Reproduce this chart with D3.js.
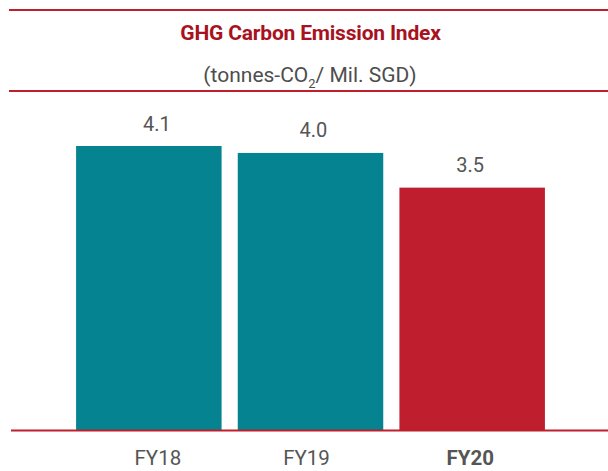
<!DOCTYPE html>
<html><head><meta charset="utf-8">
<script src="https://cdn.jsdelivr.net/npm/d3@7"></script>
<style>body{margin:0;background:#fff;}svg{display:block;font-family:Roboto,"Noto Sans",sans-serif;}</style>
</head><body>
<svg id="c" width="608" height="471"></svg>
<script>
const categories = ["FY18", "FY19", "FY20"];
const values = [4.1, 4.0, 3.5];
const valueLabels = ["4.1", "4.0", "3.5"];
const barColors = ["#058390", "#058390", "#be1e2d"];
const title = "GHG Carbon Emission Index";

// layout-only nudges of text relative to bar centres (as in the original artwork)
const valueNudge = [8, 3, -2];
const catNudge = [9, -4, -2];

const svg = d3.select("#c");
const W = 608, H = 471;
const x = d3.scaleBand().domain(categories).range([68, 553]).paddingInner(0.1).paddingOuter(0.05);
const y = d3.scaleLinear().domain([0, 4.1]).range([430.5, 146]);

// rules
svg.append("line").attr("x1", 9).attr("x2", W).attr("y1", 10).attr("y2", 10)
  .attr("stroke", "#be1e2d").attr("stroke-width", 2);
svg.append("line").attr("x1", 9).attr("x2", W).attr("y1", 91).attr("y2", 91)
  .attr("stroke", "#be1e2d").attr("stroke-width", 2);

svg.append("text").attr("x", 310.5).attr("y", 39.5).attr("text-anchor", "middle")
  .attr("font-size", 21).attr("font-weight", "bold").attr("fill", "#a8121e")
  .attr("letter-spacing", -0.2).text(title);

const sub = svg.append("text").attr("x", 310).attr("y", 81.5).attr("text-anchor", "middle")
  .attr("font-size", 21).attr("fill", "#4d4d4d");
sub.append("tspan").text("(tonnes-CO");
sub.append("tspan").attr("font-size", 13).attr("dy", 6).text("2");
sub.append("tspan").attr("dy", -6).text("/ Mil. SGD)");

svg.append("g").selectAll("rect").data(values).join("rect")
  .attr("x", (d, i) => x(categories[i]))
  .attr("width", x.bandwidth())
  .attr("y", d => y(d))
  .attr("height", d => y(0) - y(d))
  .attr("fill", (d, i) => barColors[i]);

svg.append("line").attr("x1", 11).attr("x2", W).attr("y1", y(0)).attr("y2", y(0))
  .attr("stroke", "#be1e2d").attr("stroke-width", 2);

svg.append("g").selectAll("text").data(values).join("text")
  .attr("x", (d, i) => x(categories[i]) + x.bandwidth() / 2 + valueNudge[i])
  .attr("y", d => y(d) - 15.5)
  .attr("text-anchor", "middle").attr("font-size", 20).attr("fill", "#555")
  .text((d, i) => valueLabels[i]);

const xAxis = d3.axisBottom(x).tickSize(0).tickPadding(0);
const gx = svg.append("g").attr("transform", `translate(0,${y(0)})`).call(xAxis);
gx.select(".domain").remove();
gx.selectAll("text").attr("font-size", 20.5).attr("font-family", "Roboto, sans-serif")
  .attr("fill", "#555").attr("dy", 0).attr("y", 34.5)
  .attr("x", (d, i) => catNudge[i])
  .attr("font-weight", d => d === "FY20" ? "bold" : "normal");
</script>
</body></html>
